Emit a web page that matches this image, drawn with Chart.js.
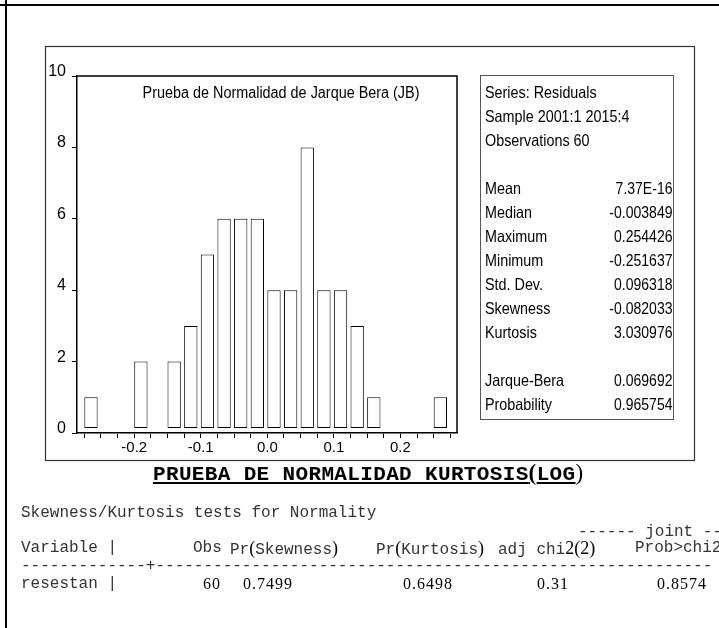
<!DOCTYPE html>
<html>
<head>
<meta charset="utf-8">
<title>Prueba de normalidad de los residuos</title>
<script src="https://cdn.jsdelivr.net/npm/chart.js@4.4.1/dist/chart.umd.min.js"></script>
<style>
  html, body { margin: 0; padding: 0; background: #fff; }
  body { width: 719px; height: 628px; position: relative; overflow: hidden; }
  #histo { position: absolute; left: 0; top: 0; }
  .rule-h { position: absolute; left: 0; top: 4px; width: 719px; height: 2px; background: #000; }
  .rule-v { position: absolute; left: 5px; top: 0; width: 2px; height: 628px; background: #000; }
  .mono { position: absolute; font-family: 'Liberation Mono', 'Courier New', monospace; font-size: 16px; line-height: 16px; white-space: pre; color: #333; }
  .num { position: absolute; font-family: 'Liberation Serif', 'Times New Roman', serif; font-size: 16px; line-height: 16px; letter-spacing: 1px; white-space: pre; color: #000; }
  .paren { font-family: 'Liberation Serif', 'Times New Roman', serif; font-size: 18px; color: #000; }
  #heading { position: absolute; left: 153px; top: 462px; font-family: 'Liberation Mono', 'Courier New', monospace; font-weight: bold; font-size: 21px; line-height: 21px; letter-spacing: 0.35px; white-space: pre; color: #000; }
  #heading .paren { font-size: 23px; }
</style>
</head>
<body>
<canvas id="histo" width="719" height="628"></canvas>
<div class="rule-h"></div>
<div class="rule-v"></div>

<div id="heading"><span style="text-decoration: underline;">PRUEBA DE NORMALIDAD KURTOSIS<span class="paren">(</span>LOG</span><span class="paren" style="font-weight: normal;">)</span></div>

<div class="mono" style="left: 21px; top: 505px;">Skewness/Kurtosis tests for Normality</div>
<div class="mono" style="left: 578px; top: 524px;">------ joint ------</div>
<div class="mono" style="left: 21px; top: 540px;">Variable |</div>
<div class="mono" style="left: 193px; top: 540px;">Obs</div>
<div class="mono" style="left: 230px; top: 540px;">Pr<span class="paren">(</span>Skewness<span class="paren">)</span></div>
<div class="mono" style="left: 376px; top: 540px;">Pr<span class="paren">(</span>Kurtosis<span class="paren">)</span></div>
<div class="mono" style="left: 498px; top: 540px;">adj chi<span class="paren">2(2)</span></div>
<div class="mono" style="left: 635px; top: 540px;">Prob&gt;chi2</div>
<div class="mono" style="left: 21px; top: 558px;">-------------+----------------------------------------------------------</div>
<div class="mono" style="left: 21px; top: 576px;">resestan |</div>
<div class="num" style="left: 203px; top: 576px;">60</div>
<div class="num" style="left: 243px; top: 576px;">0.7499</div>
<div class="num" style="left: 403px; top: 576px;">0.6498</div>
<div class="num" style="left: 537px; top: 576px;">0.31</div>
<div class="num" style="left: 657px; top: 576px;">0.8574</div>

<script>
// histogram of the residuals: left edge of each bin and its frequency
const binLeft = [-0.275, -0.25, -0.225, -0.2, -0.175, -0.15, -0.125, -0.1, -0.075, -0.05, -0.025,
                 0, 0.025, 0.05, 0.075, 0.1, 0.125, 0.15, 0.175, 0.2, 0.225, 0.25];
const counts = [1, 0, 0, 2, 0, 2, 3, 5, 6, 6, 6, 4, 4, 8, 4, 4, 3, 1, 0, 0, 0, 1];
const binWidth = 0.025;

const xTicks = [-0.275, -0.25, -0.225, -0.2, -0.175, -0.15, -0.125, -0.1, -0.075, -0.05, -0.025,
                0, 0.025, 0.05, 0.075, 0.1, 0.125, 0.15, 0.175, 0.2, 0.225, 0.25, 0.275];
const xLabelled = [-0.2, -0.1, 0, 0.1, 0.2];
const yTicks = [0, 2, 4, 6, 8, 10];

// descriptive statistics panel
const seriesInfo = ['Series: Residuals', 'Sample 2001:1 2015:4', 'Observations 60'];
const statLabels = ['Mean', 'Median', 'Maximum', 'Minimum', 'Std. Dev.', 'Skewness', 'Kurtosis'];
const statValues = ['7.37E-16', '-0.003849', '0.254426', '-0.251637', '0.096318', '-0.082033', '3.030976'];
const testLabels = ['Jarque-Bera', 'Probability'];
const testValues = ['0.069692', '0.965754'];

const plotTitle = 'Prueba de Normalidad de Jarque Bera (JB)';
const sans = "'Liberation Sans', Arial, sans-serif";

// each bar covers 80% of its bin, starting at the bin's left edge
const points = binLeft.map((b, i) => ({ x: b + binWidth * 0.4, y: counts[i] ? counts[i] : null }));

// Arial squeezed horizontally, close to the narrow face the graph uses
function narrowText(c, text, x, y, align, sx) {
  c.save();
  c.translate(x, y);
  c.scale(sx, 1);
  c.textAlign = align;
  c.fillText(text, 0, 0);
  c.restore();
}

const framePlugin = {
  id: 'frames',
  afterDatasetsDraw(chart) {
    const c = chart.ctx;
    const a = chart.chartArea;
    c.save();
    // box around the plot
    c.strokeStyle = '#000';
    c.lineWidth = 1.5;
    c.beginPath();
    c.moveTo(a.left, a.top);
    c.lineTo(a.right, a.top);
    c.lineTo(a.right, a.bottom);
    c.stroke();
    c.restore();
  },
  afterDraw(chart) {
    const c = chart.ctx;
    const a = chart.chartArea;
    c.save();
    // outer graph frame
    c.strokeStyle = '#333';
    c.lineWidth = 1.2;
    c.strokeRect(45.5, 46.5, 649, 414);

    // title inside the plot
    c.fillStyle = '#000';
    c.textBaseline = 'middle';
    c.font = '16px ' + sans;
    narrowText(c, plotTitle, 281, a.top + 18, 'center', 0.9);

    // statistics box
    c.strokeStyle = '#555';
    c.lineWidth = 1;
    c.strokeRect(480.5, 75.5, 193, 344);
    c.font = '16.5px ' + sans;
    const x0 = 485, x1 = 672.5, top = 93.5, step = 24;
    const row = (i, label, value) => {
      const y = top + i * step;
      narrowText(c, label, x0, y, 'left', 0.87);
      if (value) narrowText(c, value, x1, y, 'right', 0.85);
    };
    seriesInfo.forEach((t, i) => row(i, t));
    statLabels.forEach((t, i) => row(4 + i, t, statValues[i]));
    testLabels.forEach((t, i) => row(12 + i, t, testValues[i]));
    c.restore();
  }
};

new Chart(document.getElementById('histo'), {
  type: 'bar',
  data: {
    datasets: [{
      data: points,
      backgroundColor: '#fff',
      borderColor: '#000',
      borderWidth: 1,
      borderSkipped: false,
      base: 0.14,
      barPercentage: 0.8,
      categoryPercentage: 1
    }]
  },
  options: {
    responsive: false,
    animation: false,
    events: [],
    layout: { padding: { left: 0, top: 76, right: 262, bottom: 0 } },
    plugins: { legend: { display: false }, tooltip: { enabled: false } },
    scales: {
      x: {
        type: 'linear',
        min: -0.286,
        max: 0.285,
        offset: false,
        grid: { offset: false, drawOnChartArea: false, drawTicks: true, tickLength: 5, color: '#000', lineWidth: 1 },
        border: { display: true, color: '#000', width: 1.5 },
        afterBuildTicks: s => { s.ticks = xTicks.map(v => ({ value: v })); },
        afterFit: s => { s.height = 195; },
        ticks: {
          autoSkip: false,
          maxRotation: 0,
          padding: 1,
          color: '#000',
          font: { family: sans, size: 15 },
          callback: v => xLabelled.some(l => Math.abs(l - v) < 1e-9) ? v.toFixed(1) : ''
        }
      },
      y: {
        min: 0,
        max: 10,
        grid: { drawOnChartArea: false, drawTicks: true, tickLength: 5, color: '#000', lineWidth: 1 },
        border: { display: true, color: '#000', width: 1.5 },
        afterBuildTicks: s => { s.ticks = yTicks.map(v => ({ value: v })); },
        afterFit: s => { s.width = 77; },
        ticks: {
          padding: 6,
          labelOffset: -4.5,
          color: '#000',
          font: { family: sans, size: 16 }
        }
      }
    }
  },
  plugins: [framePlugin]
});
</script>
</body>
</html>
